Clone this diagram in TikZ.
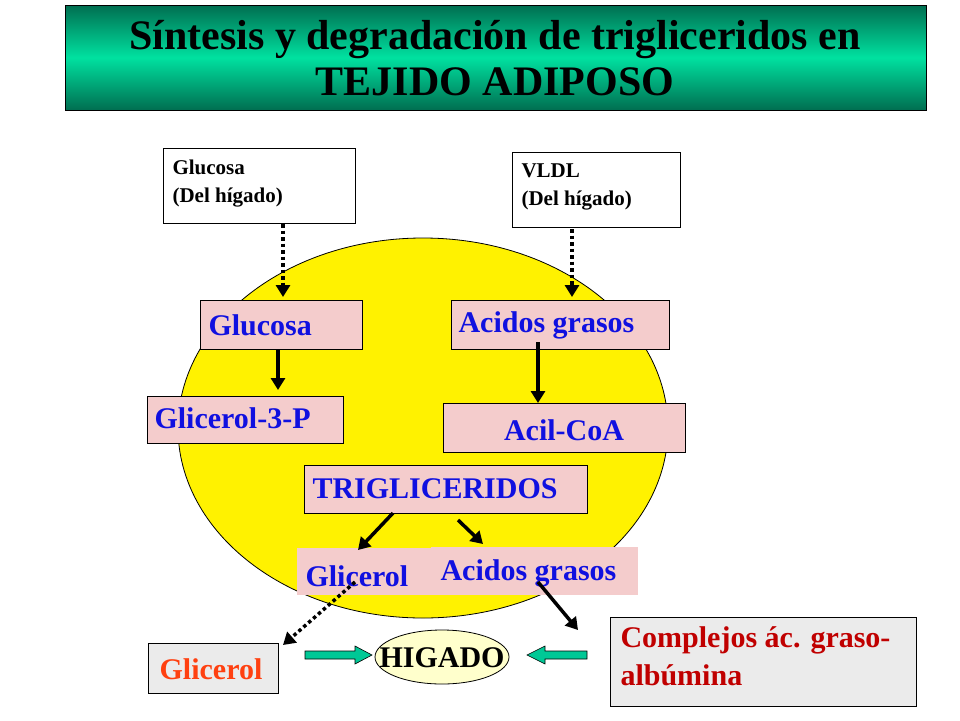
\documentclass[tikz,border=0pt]{standalone}
\usepackage{fontspec}
\setmainfont{Liberation Serif}
\usetikzlibrary{arrows.meta}
\definecolor{pinkb}{HTML}{F4CCCC}
\definecolor{blu}{HTML}{1010E0}
\definecolor{tealg}{HTML}{00C896}
\tikzset{
 px/.style={x=1pt,y=-1pt},
 wbox/.style={draw,fill=white,line width=0.8pt,anchor=north west,inner sep=0pt},
 wtxt/.style={anchor=north west,align=left,font=\fontsize{21}{28}\selectfont\bfseries},
 pbox/.style={fill=pinkb,anchor=north west,inner sep=0pt},
 ptxt/.style={text=blu,font=\fontsize{30}{34}\selectfont\bfseries},
 bdr/.style={draw,line width=0.8pt},
 dotarr/.style={line width=3.5pt,dash pattern=on 3.5pt off 3pt,-{Triangle[length=12pt,width=14pt]}},
 solarr/.style={line width=3.5pt,-{Triangle[length=12pt,width=14pt]}},
}
\begin{document}
\begin{tikzpicture}[px]
\useasboundingbox (0,0) rectangle (960,720);
\fill[white] (0,0) rectangle (960,720);
% title
\shade[top color={rgb,255:red,0;green,110;blue,80},bottom color={rgb,255:red,0;green,110;blue,80},middle color={rgb,255:red,0;green,225;blue,160}] (65,5) rectangle (926,110);
\draw[line width=0.8pt] (65,5) rectangle (926,110);
\node[align=center,font=\fontsize{42}{46}\selectfont\bfseries] (title) at (495,58) {Síntesis y degradación de trigliceridos en\\TEJIDO ADIPOSO};
% cell
\draw[fill=yellow,line width=0.8pt] (423,428) ellipse [x radius=245,y radius=190];
% top boxes
\node[wbox,minimum width=192pt,minimum height=75pt] (g0) at (163,148) {};
\node[wtxt] (g0t) at (169,156) {Glucosa\\(Del hígado)};
\node[wbox,minimum width=168pt,minimum height=75pt] (v0) at (512,152) {};
\node[wtxt] (v0t) at (518,160) {VLDL\\(Del hígado)};
% pink boxes
\node[pbox,bdr,minimum width=162pt,minimum height=49pt] (glu) at (200,300) {};
\node[ptxt,anchor=west] (glut) at (205,325) {Glucosa};
\node[pbox,bdr,minimum width=218pt,minimum height=49pt] (ag) at (451,300) {};
\node[ptxt,anchor=west] (agt) at (455,325) {Acidos grasos};
\node[pbox,bdr,minimum width=196pt,minimum height=47pt] (g3p) at (147,396) {};
\node[ptxt,anchor=west] (g3pt) at (151,418) {Glicerol-3-P};
\node[pbox,bdr,minimum width=242pt,minimum height=49pt] (acil) at (443,403) {};
\node[ptxt] (acilt) at (564,430) {Acil-CoA};
\node[pbox,bdr,minimum width=283pt,minimum height=48pt] (tg) at (304,465) {};
\node[ptxt,anchor=west] (tgt) at (309,489) {TRIGLICERIDOS};
\node[pbox,minimum width=134pt,minimum height=47pt] (gl) at (297,548) {};
\node[ptxt,anchor=west] (glt) at (302,576) {Glicerol};
\node[pbox,minimum width=207pt,minimum height=48pt] (ag2) at (431,547) {};
\node[ptxt,anchor=west] (ag2t) at (437,573) {Acidos grasos};
% bottom
\node[draw,fill=black!8,line width=0.8pt,anchor=north west,minimum width=130pt,minimum height=50pt,inner sep=0pt] (glo) at (148,643) {};
\node[text={rgb,255:red,255;green,64;blue,16},font=\fontsize{30}{34}\selectfont\bfseries] (glot) at (211,669) {Glicerol};
\node[draw,fill=black!8,line width=0.8pt,anchor=north west,minimum width=306pt,minimum height=89pt,inner sep=0pt] (comp) at (610,617) {};
\node[anchor=north west,align=left,text={rgb,255:red,192;green,0;blue,0},font=\fontsize{30}{38}\selectfont\bfseries] (compt) at (617,623) {Complejos ác. graso-\\albúmina};
\draw[fill={rgb,255:red,255;green,255;blue,204},line width=0.8pt] (442,657) ellipse [x radius=67,y radius=27];
\node[font=\fontsize{30}{34}\selectfont\bfseries] (hig) at (442,658) {HIGADO};
% green arrows
\draw[fill=tealg,line width=0.6pt] (305,651)--(355,651)--(355,646)--(372,655)--(355,664)--(355,659)--(305,659)--cycle;
\draw[fill=tealg,line width=0.6pt] (587,651)--(545,651)--(545,646)--(527,655)--(545,664)--(545,659)--(587,659)--cycle;
% arrows
\coordinate (a1) at (283,224); \coordinate (a2) at (283,297);
\coordinate (b1) at (572,229); \coordinate (b2) at (572,297);
\coordinate (c1) at (278,349); \coordinate (c2) at (278,390);
\coordinate (d1) at (538,342); \coordinate (d2) at (538,403);
\coordinate (e1) at (393,513); \coordinate (e2) at (358,550);
\coordinate (f1) at (458,520); \coordinate (f2) at (483,544);
\coordinate (h1) at (355,582); \coordinate (h2) at (283,645);
\coordinate (i1) at (538,582); \coordinate (i2) at (578,630);
\draw[dotarr] (a1) -- (a2);
\draw[dotarr] (b1) -- (b2);
\draw[solarr] (c1) -- (c2);
\draw[solarr] (d1) -- (d2);
\draw[solarr] (e1) -- (e2);
\draw[solarr] (f1) -- (f2);
\draw[dotarr] (h1) -- (h2);
\draw[solarr] (i1) -- (i2);
\end{tikzpicture}
\end{document}
